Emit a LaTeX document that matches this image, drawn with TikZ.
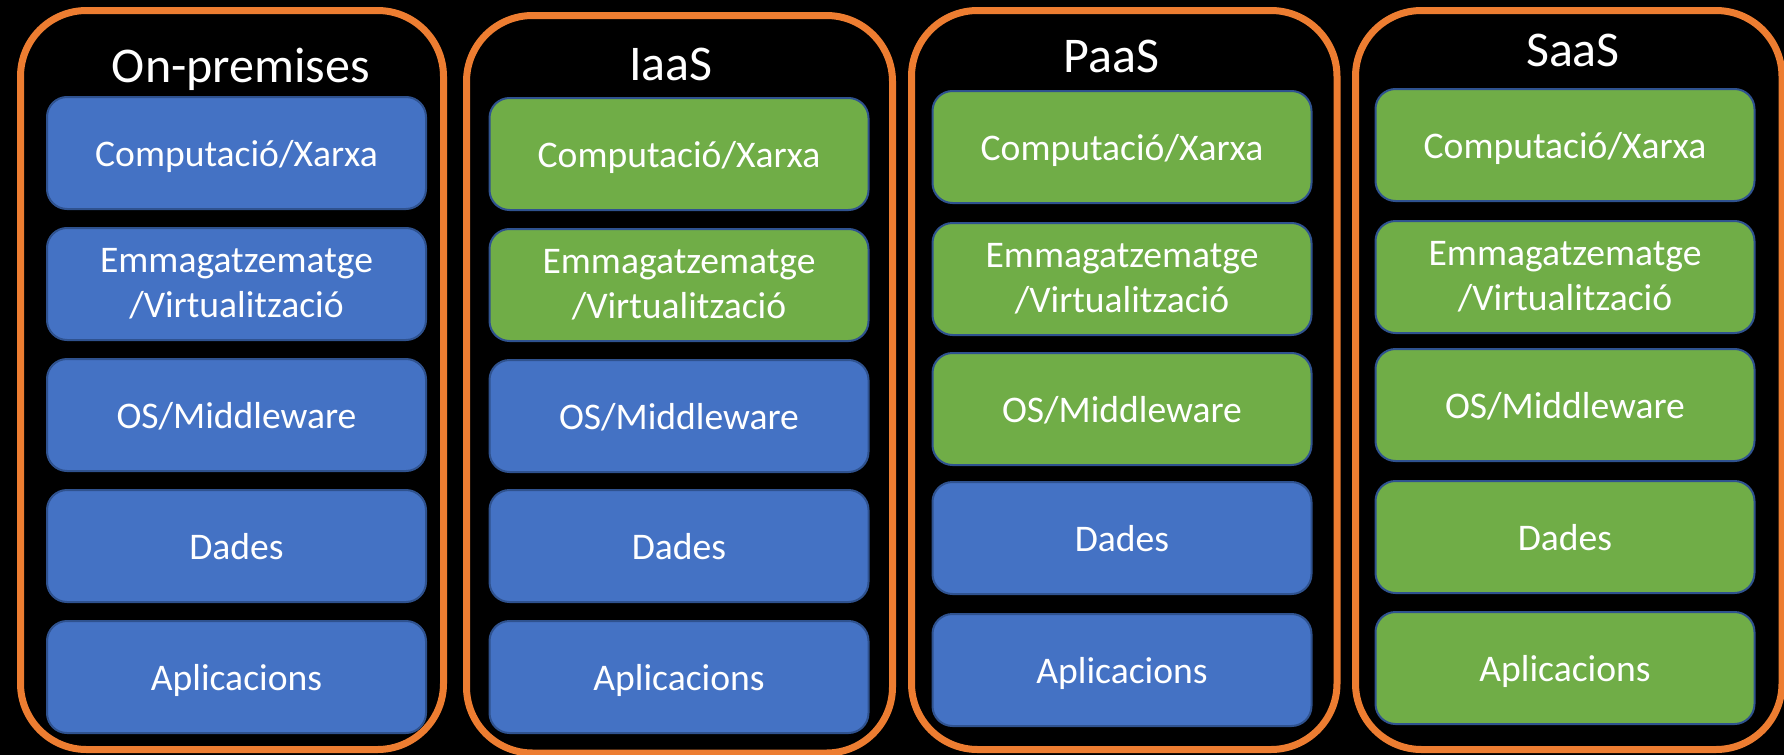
\documentclass[tikz,border=0pt]{standalone}
\usepackage{fontspec}
\setmainfont{Carlito}
\usepackage{xcolor}
\usepackage{tikz}

\definecolor{frameorange}{HTML}{ED7D31}
\definecolor{layerblue}{HTML}{4472C4}
\definecolor{layergreen}{HTML}{70AD47}
\definecolor{layerline}{HTML}{2F528F}

\begin{document}
\begin{tikzpicture}[x=0.5pt,y=-0.5pt,
    frame/.style={rectangle, draw=frameorange, line width=3.5pt,
                  rounded corners=33pt, inner sep=0pt},
    layer/.style={rectangle, draw=layerline, line width=1pt,
                  rounded corners=10pt, inner sep=0pt,
                  minimum width=189.5pt, minimum height=56pt},
    own/.style={layer, fill=layerblue},
    prov/.style={layer, fill=layergreen},
    title/.style={text=white, anchor=base, inner sep=0pt,
                  font=\fontsize{25}{30}\selectfont},
    lbltwo/.style={text=white, align=center,
                   font=\fontsize{18.8}{22.6}\selectfont},
    lbl/.style={lbltwo, inner sep=0pt,
                text height=13.5pt, text depth=0pt}]

    % background
    \fill[black] (0,0) rectangle (1784,755);
    \useasboundingbox (0,0) rectangle (1784,755);

    % columns
    \node[frame, minimum width=211.5pt, minimum height=369.5pt] (onprem) at (232,380) {};
    \node[frame, minimum width=213pt, minimum height=368.75pt] (iaas) at (679.5,384.25) {};
    \node[frame, minimum width=212.75pt, minimum height=369.5pt] (paas) at (1124.25,380) {};
    \node[frame, minimum width=213.25pt, minimum height=369.5pt] (saas) at (1568.75,380) {};

    \node[title] (onpremt) at (241,83) {On-premises};
    \node[title] (iaast) at (671,80) {IaaS};
    \node[title] (paast) at (1111.5,72) {PaaS};
    \node[title] (saast) at (1573,66) {SaaS};

    % On-premises
    \node[own] (op1) at (236.5,153) {};
    \node[lbl] at (op1.center) {Computació/Xarxa};
    \node[own] (op2) at (236.5,284) {};
    \node[lbltwo] at (op2.center) {Emmagatzematge\\/Virtualització};
    \node[own] (op3) at (236.5,415) {};
    \node[lbl] at (op3.center) {OS/Middleware};
    \node[own] (op4) at (236.5,546) {};
    \node[lbl] at (op4.center) {Dades};
    \node[own] (op5) at (236.5,677) {};
    \node[lbl] at (op5.center) {Aplicacions};

    % IaaS
    \node[prov] (ia1) at (679,154) {};
    \node[lbl] at (ia1.center) {Computació/Xarxa};
    \node[prov] (ia2) at (679,285) {};
    \node[lbltwo] at (ia2.center) {Emmagatzematge\\/Virtualització};
    \node[own] (ia3) at (679,416) {};
    \node[lbl] at (ia3.center) {OS/Middleware};
    \node[own] (ia4) at (679,546) {};
    \node[lbl] at (ia4.center) {Dades};
    \node[own] (ia5) at (679,677) {};
    \node[lbl] at (ia5.center) {Aplicacions};

    % PaaS
    \node[prov] (pa1) at (1122,147) {};
    \node[lbl] at (pa1.center) {Computació/Xarxa};
    \node[prov] (pa2) at (1122,279) {};
    \node[lbltwo] at (pa2.center) {Emmagatzematge\\/Virtualització};
    \node[prov] (pa3) at (1122,409) {};
    \node[lbl] at (pa3.center) {OS/Middleware};
    \node[own] (pa4) at (1122,538) {};
    \node[lbl] at (pa4.center) {Dades};
    \node[own] (pa5) at (1122,670) {};
    \node[lbl] at (pa5.center) {Aplicacions};

    % SaaS
    \node[prov] (sa1) at (1565,145) {};
    \node[lbl] at (sa1.center) {Computació/Xarxa};
    \node[prov] (sa2) at (1565,277) {};
    \node[lbltwo] at (sa2.center) {Emmagatzematge\\/Virtualització};
    \node[prov] (sa3) at (1565,405) {};
    \node[lbl] at (sa3.center) {OS/Middleware};
    \node[prov] (sa4) at (1565,537) {};
    \node[lbl] at (sa4.center) {Dades};
    \node[prov] (sa5) at (1565,668) {};
    \node[lbl] at (sa5.center) {Aplicacions};

\end{tikzpicture}
\end{document}
